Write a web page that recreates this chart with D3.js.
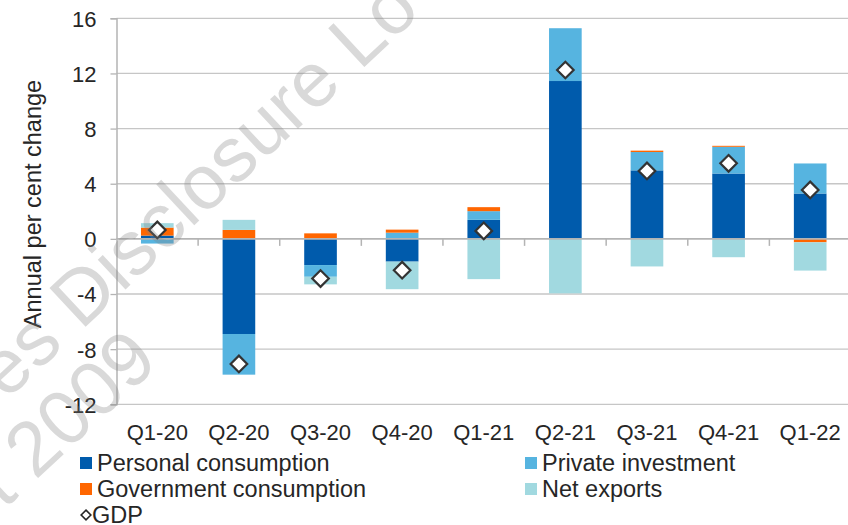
<!DOCTYPE html>
<html>
<head>
<meta charset="utf-8">
<script src="https://cdn.jsdelivr.net/npm/d3@7/dist/d3.min.js"></script>
<style>
  body { margin: 0; background: #fff; }
  svg { display: block; font-family: "Liberation Sans", Arial, sans-serif; }
</style>
</head>
<body>
<div id="main"></div>
<script>
// data
var quarters = ["Q1-20", "Q2-20", "Q3-20", "Q4-20", "Q1-21", "Q2-21", "Q3-21", "Q4-21", "Q1-22"];
var personalConsumption = [0.24, -6.9, -1.9, -1.65, 1.38, 11.45, 4.97, 4.74, 3.29];
var privateInvestment   = [-0.34, -2.95, -0.85, 0.45, 0.63, 3.83, 1.33, 1.94, 2.18];
var governmentConsumption = [0.58, 0.65, 0.4, 0.22, 0.29, 0.0, 0.1, 0.07, -0.25];
var netExports          = [0.32, 0.73, -0.55, -2.0, -2.92, -3.95, -2.0, -1.33, -2.05];
var gdp                 = [0.65, -9.07, -2.88, -2.27, 0.58, 12.25, 4.93, 5.48, 3.55];
var yTicks = [-12, -8, -4, 0, 4, 8, 12, 16];

var seriesKeys = ["pc", "pi", "gc", "nx"];
var seriesNames = {pc: "Personal consumption", pi: "Private investment", gc: "Government consumption", nx: "Net exports"};
var colors = {pc: "#005BAC", pi: "#56B4E0", gc: "#FF6600", nx: "#A1D9E0"};

var width = 848, height = 525;
var plot = {left: 116.5, right: 851, top: 18.3, bottom: 404.3};

var table = quarters.map(function(q, i) {
    return {q: q, pc: personalConsumption[i], pi: privateInvestment[i],
            gc: governmentConsumption[i], nx: netExports[i], gdp: gdp[i]};
});

var svg = d3.select("#main").append("svg")
    .attr("width", width)
    .attr("height", height);

var x = d3.scaleBand().domain(quarters).range([plot.left, plot.right]).padding(0);
var y = d3.scaleLinear().domain([-12, 16]).range([plot.bottom, plot.top]);
var step = x.step(), barW = step * 0.4;

// gridlines
svg.append("g").selectAll("line")
    .data(yTicks.filter(function(t) { return t !== 0; }))
    .enter().append("line")
    .attr("x1", plot.left).attr("x2", width)
    .attr("y1", function(d) { return y(d); }).attr("y2", function(d) { return y(d); })
    .attr("stroke", "#C6C6C6").attr("stroke-width", 1.3);

// y axis (plain hyphen minus like the original)
var yAxis = svg.append("g")
    .attr("transform", "translate(" + plot.left + ",0)")
    .call(d3.axisLeft(y).tickValues(yTicks).tickSize(6).tickPadding(14)
        .tickFormat(function(d) { return String(d); }));
yAxis.select(".domain").attr("stroke", "#B4B4B4").attr("stroke-width", 1.5);
yAxis.selectAll(".tick line").attr("stroke", "#B4B4B4").attr("stroke-width", 1.3);
yAxis.selectAll("text").attr("fill", "#262626").style("font-size", "22px").attr("dy", "0.36em");

// stacked bars
var stack = d3.stack().keys(seriesKeys).offset(d3.stackOffsetDiverging);
var layers = stack(table);

svg.append("g").selectAll("g")
    .data(layers)
    .enter().append("g")
    .attr("fill", function(d) { return colors[d.key]; })
    .selectAll("rect")
    .data(function(d) { return d; })
    .enter().append("rect")
    .attr("x", function(d) { return x(d.data.q) + (step - barW) / 2; })
    .attr("width", barW)
    .attr("y", function(d) { return y(Math.max(d[0], d[1])); })
    .attr("height", function(d) { return Math.abs(y(d[0]) - y(d[1])); });

// zero line with category ticks
var zero = svg.append("g").attr("transform", "translate(0," + y(0) + ")");
zero.append("line")
    .attr("x1", plot.left).attr("x2", width)
    .attr("stroke", "#B4B4B4").attr("stroke-width", 1.6);
zero.selectAll(".ct")
    .data(quarters.slice(1))
    .enter().append("line")
    .attr("class", "ct")
    .attr("x1", function(d) { return x(d); }).attr("x2", function(d) { return x(d); })
    .attr("y1", 0).attr("y2", 7)
    .attr("stroke", "#B4B4B4").attr("stroke-width", 1.5);

// category labels
svg.append("g").selectAll("text")
    .data(quarters)
    .enter().append("text")
    .attr("x", function(d) { return x(d) + step / 2; })
    .attr("y", 440)
    .attr("text-anchor", "middle")
    .attr("fill", "#262626")
    .style("font-size", "22px")
    .text(function(d) { return d; });

// GDP diamonds
var diamond = d3.symbol().type(d3.symbolDiamond2).size(175);
svg.append("g").selectAll("path")
    .data(table)
    .enter().append("path")
    .attr("d", diamond)
    .attr("transform", function(d) { return "translate(" + (x(d.q) + step / 2) + "," + y(d.gdp) + ")"; })
    .attr("fill", "#fff")
    .attr("stroke", "#333")
    .attr("stroke-width", 2.2);

// y title
svg.append("text")
    .attr("transform", "translate(33,204) rotate(-90)")
    .attr("text-anchor", "middle")
    .attr("dy", "0.35em")
    .attr("fill", "#262626")
    .style("font-size", "23.5px")
    .text("Annual per cent change");

// legend
var legendItems = [
    {key: "pc", col: 0, row: 0},
    {key: "pi", col: 1, row: 0},
    {key: "gc", col: 0, row: 1},
    {key: "nx", col: 1, row: 1}
];
var colX = [80, 525], rowY = [463, 489, 515];
var legend = svg.append("g");
legendItems.forEach(function(it) {
    legend.append("rect")
        .attr("x", colX[it.col]).attr("y", rowY[it.row] - 6)
        .attr("width", 12).attr("height", 12)
        .attr("fill", colors[it.key]);
    legend.append("text")
        .attr("x", colX[it.col] + 17).attr("y", rowY[it.row])
        .attr("dy", "0.35em")
        .attr("fill", "#262626")
        .style("font-size", "23.5px")
        .text(seriesNames[it.key]);
});
legend.append("path")
    .attr("d", d3.symbol().type(d3.symbolDiamond2).size(60))
    .attr("transform", "translate(86," + rowY[2] + ")")
    .attr("fill", "#fff").attr("stroke", "#262626").attr("stroke-width", 1.6);
legend.append("text")
    .attr("x", 92).attr("y", rowY[2])
    .attr("dy", "0.35em")
    .attr("fill", "#262626")
    .style("font-size", "23.5px")
    .text("GDP");

// watermark
var wm = svg.append("g").attr("fill", "#808080").attr("fill-opacity", 0.3)
    .style("font-size", "77px").style("pointer-events", "none");
wm.append("text").attr("transform", "translate(6,401) rotate(-43)").text("es Disclosure Lo");
wm.append("text").attr("transform", "translate(4,510) rotate(-43)").text("t 2009");
</script>
</body>
</html>
